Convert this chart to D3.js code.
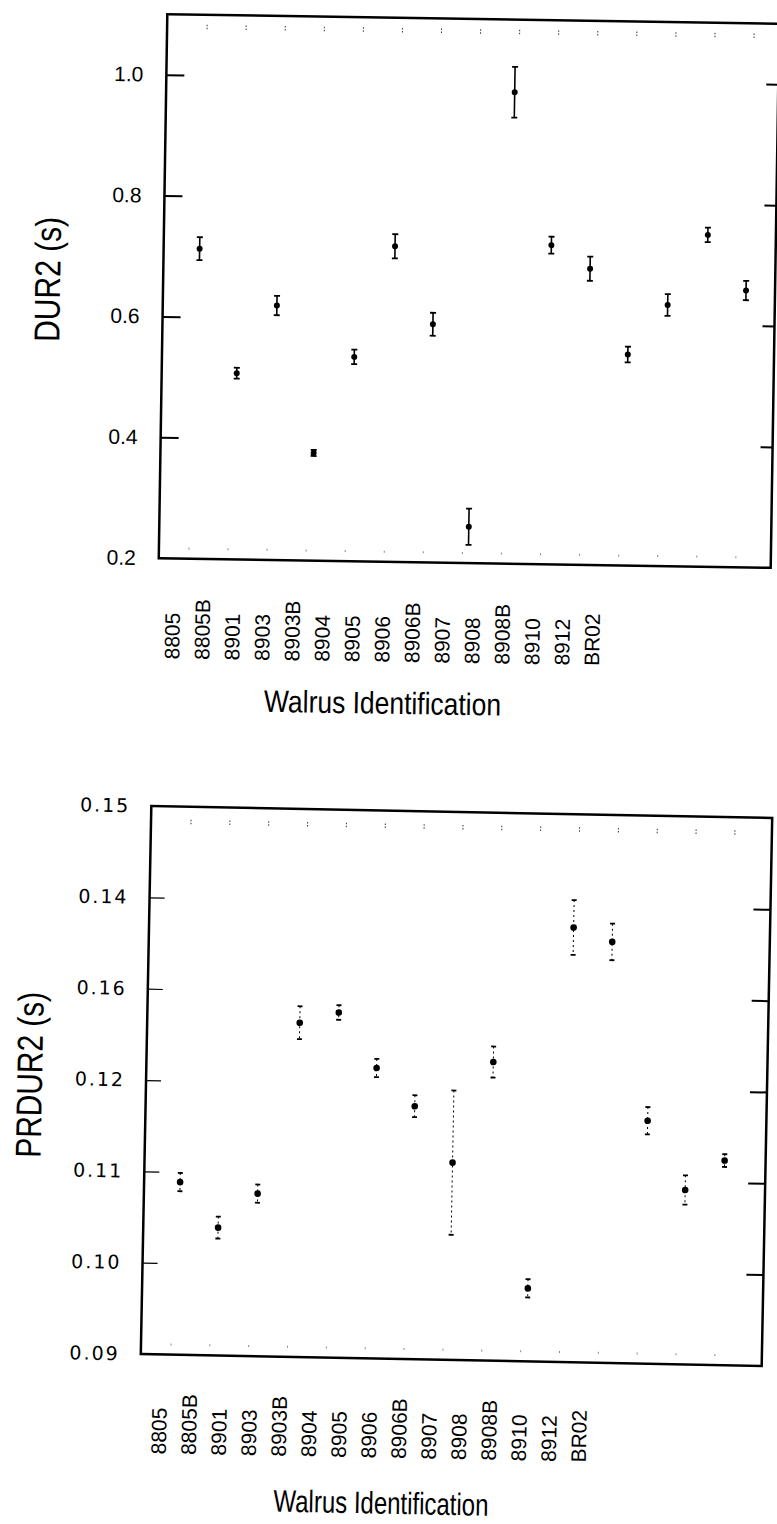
<!DOCTYPE html>
<html>
<head>
<meta charset="utf-8">
<script src="https://cdn.jsdelivr.net/npm/d3@7"></script>
<style>
    body { margin: 0; background: #fff; }
    svg { display: block; }
</style>
</head>
<body>
<div id="chart"></div>
<script>
var walrusIds = ["8805", "8805B", "8901", "8903", "8903B", "8904", "8905", "8906", "8906B", "8907", "8908", "8908B", "8910", "8912", "BR02"];

// upper panel: DUR2 (s)
var dur2Mean = [0.713, 0.508, 0.621, 0.378, 0.538, 0.722, 0.594, 0.260, 0.980, 0.728, 0.690, 0.549, 0.632, 0.749, 0.658];
var dur2Err = [0.019, 0.009, 0.016, 0.005, 0.012, 0.020, 0.019, 0.030, 0.042, 0.014, 0.020, 0.013, 0.018, 0.012, 0.016];
var dur2Ticks = [1.0, 0.8, 0.6, 0.4, 0.2];
var dur2TickLabels = ["1.0", "0.8", "0.6", "0.4", "0.2"];
var dur2RightTicks = [1.0, 0.8, 0.6, 0.4];

// lower panel: PRDUR2 (s)
var prdur2Mean = [0.1089, 0.1040, 0.1078, 0.1266, 0.1278, 0.1218, 0.1177, 0.1116, 0.1227, 0.0980, 0.1376, 0.1361, 0.1166, 0.1091, 0.1124];
var prdur2Err = [0.0010, 0.0012, 0.0010, 0.0018, 0.0008, 0.0010, 0.0012, 0.0079, 0.0017, 0.0010, 0.0030, 0.0020, 0.0015, 0.0016, 0.0007];
var prdur2Ticks = [0.15, 0.14, 0.13, 0.12, 0.11, 0.10, 0.09];
var prdur2TickLabels = ["0.15", "0.14", "0.16", "0.12", "0.11", "0.10", "0.09"];
var prdur2RightTicks = [0.14, 0.13, 0.12, 0.11, 0.10];

var svg = d3.select("#chart")
    .append("svg")
    .attr("width", 777)
    .attr("height", 1524);

function drawPanel(opt) {
    var cx = (opt.left + opt.right) / 2,
        cy = (opt.top + opt.bottom) / 2;

    // the scanned figure is slightly tilted
    var g = svg.append("g")
        .attr("transform", "rotate(" + opt.angle + "," + cx + "," + cy + ")");

    var x = d3.scalePoint().domain(walrusIds).range(opt.pointRange);
    var xLab = d3.scalePoint().domain(walrusIds).range(opt.labelRange);
    var y = d3.scaleLinear().domain(opt.domain).range([opt.bottom, opt.top]);

    var data = walrusIds.map(function(id, i) {
        return { id: id, mean: opt.mean[i], err: opt.err[i] };
    });

    // small category marks along top and bottom
    g.selectAll("line.topMark")
        .data(walrusIds)
        .enter()
        .append("line")
        .attr("class", "topMark")
        .attr("x1", function(d) { return x(d) + 4; })
        .attr("x2", function(d) { return x(d) + 4; })
        .attr("y1", opt.top + opt.markGap)
        .attr("y2", opt.top + opt.markGap + 5)
        .attr("stroke", "#333")
        .attr("stroke-width", 1)
        .attr("stroke-dasharray", "1.5,1.5");

    g.selectAll("line.bottomMark")
        .data(walrusIds)
        .enter()
        .append("line")
        .attr("class", "bottomMark")
        .attr("x1", function(d) { return x(d) - 6; })
        .attr("x2", function(d) { return x(d) - 6; })
        .attr("y1", opt.bottom - 11)
        .attr("y2", opt.bottom - 9)
        .attr("stroke", "#888")
        .attr("stroke-width", 1);

    // left axis, ticks pointing inward
    var yAxis = d3.axisLeft(y)
        .tickValues(opt.ticks)
        .tickSize(-opt.tickLen)
        .tickPadding(opt.labelGap)
        .tickFormat(function(d, i) { return opt.tickLabels[i]; });

    var ya = g.append("g")
        .attr("transform", "translate(" + opt.left + ",0)")
        .call(yAxis);
    ya.select(".domain").remove();
    ya.selectAll("line").attr("stroke", "#000").attr("stroke-width", opt.tickWidth);
    ya.selectAll("text")
        .attr("fill", "#000")
        .style("font-family", opt.tickFont)
        .style("font-size", opt.tickSize + "px")
        .style("letter-spacing", opt.tickSpacing + "px");
    ya.selectAll(".tick")
        .filter(function(d) { return d === opt.domain[0] || d === opt.domain[1]; })
        .select("line").remove();

    // right axis, ticks only
    var yRight = d3.axisRight(y)
        .tickValues(opt.rightTicks)
        .tickSize(-opt.rightTickLen)
        .tickFormat("");
    var yr = g.append("g")
        .attr("transform", "translate(" + opt.right + ",0)")
        .call(yRight);
    yr.select(".domain").remove();
    yr.selectAll("line").attr("stroke", "#000").attr("stroke-width", 2);

    // frame
    g.append("rect")
        .attr("x", opt.left)
        .attr("y", opt.top)
        .attr("width", opt.right - opt.left)
        .attr("height", opt.bottom - opt.top)
        .attr("fill", "none")
        .attr("stroke", "#000")
        .attr("stroke-width", 2.5);

    // error bars
    var pts = g.append("g");

    pts.selectAll("line.whisker")
        .data(data)
        .enter()
        .append("line")
        .attr("class", "whisker")
        .attr("x1", function(d) { return x(d.id); })
        .attr("x2", function(d) { return x(d.id); })
        .attr("y1", function(d) { return y(d.mean + d.err); })
        .attr("y2", function(d) { return y(d.mean - d.err); })
        .attr("stroke", "#000")
        .attr("stroke-width", opt.whiskerWidth)
        .attr("stroke-dasharray", opt.whiskerDash);

    [1, -1].forEach(function(sign) {
        pts.selectAll("line.cap" + sign)
            .data(data)
            .enter()
            .append("line")
            .attr("x1", function(d) { return x(d.id) - opt.capHalf; })
            .attr("x2", function(d) { return x(d.id) + opt.capHalf; })
            .attr("y1", function(d) { return y(d.mean + sign * d.err); })
            .attr("y2", function(d) { return y(d.mean + sign * d.err); })
            .attr("stroke", "#000")
            .attr("stroke-width", 1.8);
    });

    pts.selectAll("circle")
        .data(data)
        .enter()
        .append("circle")
        .attr("cx", function(d) { return x(d.id); })
        .attr("cy", function(d) { return y(d.mean); })
        .attr("r", opt.dotR)
        .attr("fill", "#000");

    // category labels, reading upward
    g.selectAll("text.xLabel")
        .data(walrusIds)
        .enter()
        .append("text")
        .attr("class", "xLabel")
        .attr("transform", function(d) {
            return "translate(" + (xLab(d) + 7) + "," + opt.labelY + ") rotate(-90)";
        })
        .attr("text-anchor", "start")
        .style("font-family", "'Liberation Sans', Arial, sans-serif")
        .style("font-size", "21px")
        .text(function(d) { return d; });

    g.append("text")
        .attr("x", opt.titleX)
        .attr("y", opt.titleY)
        .attr("text-anchor", "middle")
        .attr("textLength", opt.titleLen)
        .attr("lengthAdjust", "spacingAndGlyphs")
        .style("font-family", "'Liberation Sans', Arial, sans-serif")
        .style("font-size", "31px")
        .text("Walrus Identification");

    g.append("text")
        .attr("transform", "translate(" + opt.yTitleX + "," + opt.yTitleY + ") rotate(-90)")
        .attr("text-anchor", "middle")
        .attr("textLength", opt.yTitleLen)
        .attr("lengthAdjust", "spacingAndGlyphs")
        .style("font-family", "'Liberation Sans', Arial, sans-serif")
        .style("font-size", "36px")
        .text(opt.yTitle);
}

drawPanel({
    left: 163, right: 775, top: 19, bottom: 563, angle: 0.9,
    domain: [0.2, 1.1],
    mean: dur2Mean, err: dur2Err,
    ticks: dur2Ticks, tickLabels: dur2TickLabels, rightTicks: dur2RightTicks,
    tickLen: 18, rightTickLen: 12, tickWidth: 2, labelGap: 23,
    tickFont: "'Liberation Sans', Arial, sans-serif", tickSize: 21, tickSpacing: 0,
    pointRange: [199, 746], labelRange: [178, 598], labelY: 664,
    markGap: 10, dotR: 3,
    whiskerWidth: 1.6, whiskerDash: null, capHalf: 3,
    titleX: 389, titleY: 715, titleLen: 237,
    yTitle: "DUR2 (s)", yTitleX: 60, yTitleY: 286, yTitleLen: 125
});

drawPanel({
    left: 146, right: 767, top: 812, bottom: 1360, angle: 1.1,
    domain: [0.09, 0.15],
    mean: prdur2Mean, err: prdur2Err,
    ticks: prdur2Ticks, tickLabels: prdur2TickLabels, rightTicks: prdur2RightTicks,
    tickLen: 15, rightTickLen: 17, tickWidth: 1.2, labelGap: 21,
    tickFont: "'DejaVu Sans', sans-serif", tickSize: 19, tickSpacing: 2,
    pointRange: [182, 726], labelRange: [166, 586], labelY: 1460,
    markGap: 13, dotR: 3.3,
    whiskerWidth: 1, whiskerDash: "2,3", capHalf: 2.5,
    titleX: 389, titleY: 1515, titleLen: 215,
    yTitle: "PRDUR2 (s)", yTitleX: 42, yTitleY: 1083, yTitleLen: 166
});
</script>
</body>
</html>
